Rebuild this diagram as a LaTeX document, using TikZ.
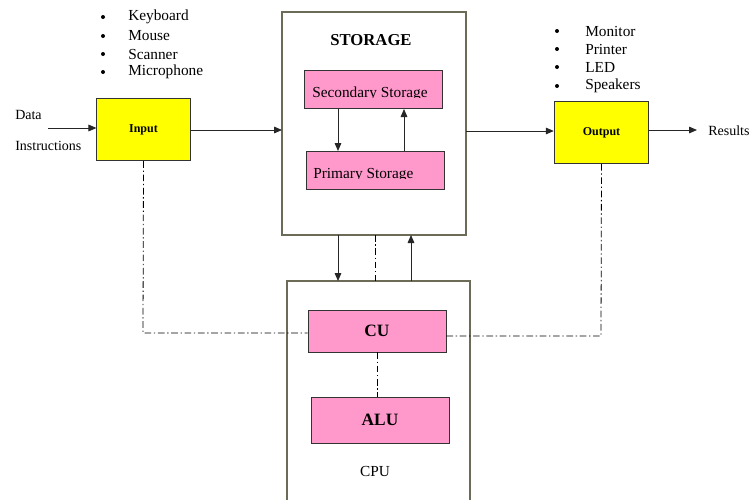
\documentclass[tikz,border=0pt]{standalone}
\usepackage{fontspec}
\setmainfont{Liberation Serif}
\usetikzlibrary{arrows.meta}
\definecolor{frame}{HTML}{6B6B58}
\definecolor{pinkfill}{HTML}{FF99CC}
\definecolor{yellowfill}{HTML}{FFFF00}
\tikzset{
  outerbox/.style={draw=frame, line width=0.8pt, fill=white},
  iobox/.style={draw=black!80, line width=0.6pt, fill=yellowfill},
  unitbox/.style={draw=black!80, line width=0.6pt, fill=pinkfill},
  flow/.style={draw=black!85, line width=0.6pt, -{Triangle[length=6pt,width=5pt]}},
  ctrl/.style={draw=black, line width=0.6pt, dash pattern=on 5pt off 2pt on 1pt off 2pt},
  listtext/.style={font=\fontsize{11.5}{13}\selectfont, anchor=west, inner sep=0pt},
  sidetext/.style={font=\fontsize{10.5}{12}\selectfont, anchor=west, inner sep=0pt},
  unittext/.style={font=\fontsize{11.5}{13}\selectfont, anchor=base west, inner sep=0pt},
  dot/.style={circle, fill=black, inner sep=0pt, minimum size=3pt},
}
\begin{document}
\begin{tikzpicture}[x=0.75pt, y=-0.75pt]
\useasboundingbox (0,0) rectangle (751,500);
\fill[white] (0,0) rectangle (751,500);

% outer containers
\draw[outerbox] (282,12) rectangle (466,235);
\draw[outerbox] (287,281) rectangle (470,505);
\node[font=\bfseries\fontsize{12.5}{14}\selectfont] (stlabel) at (371,40) {STORAGE};
\node[font=\fontsize{11.5}{13}\selectfont] (cpulabel) at (375,471) {CPU};

% input / output blocks
\node[iobox, minimum width=70pt, minimum height=47pt, font=\bfseries\fontsize{9}{10}\selectfont] (in) at (143.5,129.5) {Input};
\node[iobox, minimum width=71pt, minimum height=47pt, font=\bfseries\fontsize{9}{10}\selectfont] (out) at (601.5,132.5) {Output};

% storage units
\node[unitbox, minimum width=104pt, minimum height=29pt] (sec) at (373.5,89.5) {};
\node[unitbox, minimum width=103.5pt, minimum height=29pt] (pri) at (375,170.5) {};
\begin{scope}
  \clip (300,75) rectangle (450,97.5);
  \node[unittext] (sectext) at (312,97) {Secondary Storage};
\end{scope}
\begin{scope}
  \clip (300,155) rectangle (450,178.5);
  \node[unittext] (pritext) at (313,178) {Primary Storage};
\end{scope}

% processing units
\node[unitbox, minimum width=103.5pt, minimum height=31.5pt, font=\bfseries\fontsize{13}{15}\selectfont] (cu) at (377,331) {CU};
\node[unitbox, minimum width=103.5pt, minimum height=34.5pt, font=\bfseries\fontsize{13}{15}\selectfont] (alu) at (380,420) {ALU};

% side labels
\node[sidetext] (data) at (15,115) {Data};
\node[sidetext] (instr) at (15,146) {Instructions};
\node[sidetext] (res) at (708,131) {Results};
\coordinate (datain) at (48,128);
\coordinate (resend) at (697,130);

% device lists
\foreach \t/\y in {Keyboard/17, Mouse/36, Scanner/54, Microphone/72}{
  \node[dot] at (103,\y) {};
  \node[listtext] at (128,\y) {\t};
}
\foreach \t/\y in {Monitor/31, Printer/49, LED/67, Speakers/86}{
  \node[dot] at (557,\y) {};
  \node[listtext] at (585,\y) {\t};
}

% data flow
\draw[flow] (datain) -- (datain -| in.west);
\draw[flow] (in.east |- 0,130) -- (282,130);
\draw[flow] (466,131) -- (out.west |- 0,131);
\draw[flow] (out.east |- 0,130) -- (resend);
\draw[flow] (338,109) -- (338,151);
\draw[flow] (404,151) -- (404,109);
\draw[flow] (338,235) -- (338,281);
\draw[flow] (411,281) -- (411,235);

% control signals
\draw[ctrl] (375,235) -- (375,281);
\draw[ctrl] (in.south) -- (143,333) -- (cu.west |- 0,333);
\draw[ctrl] (cu.east |- 0,336) -- (601,336) -- (out.south);
\draw[ctrl] (cu.south -| 377,0) -- (alu.north -| 377,0);
\end{tikzpicture}
\end{document}
